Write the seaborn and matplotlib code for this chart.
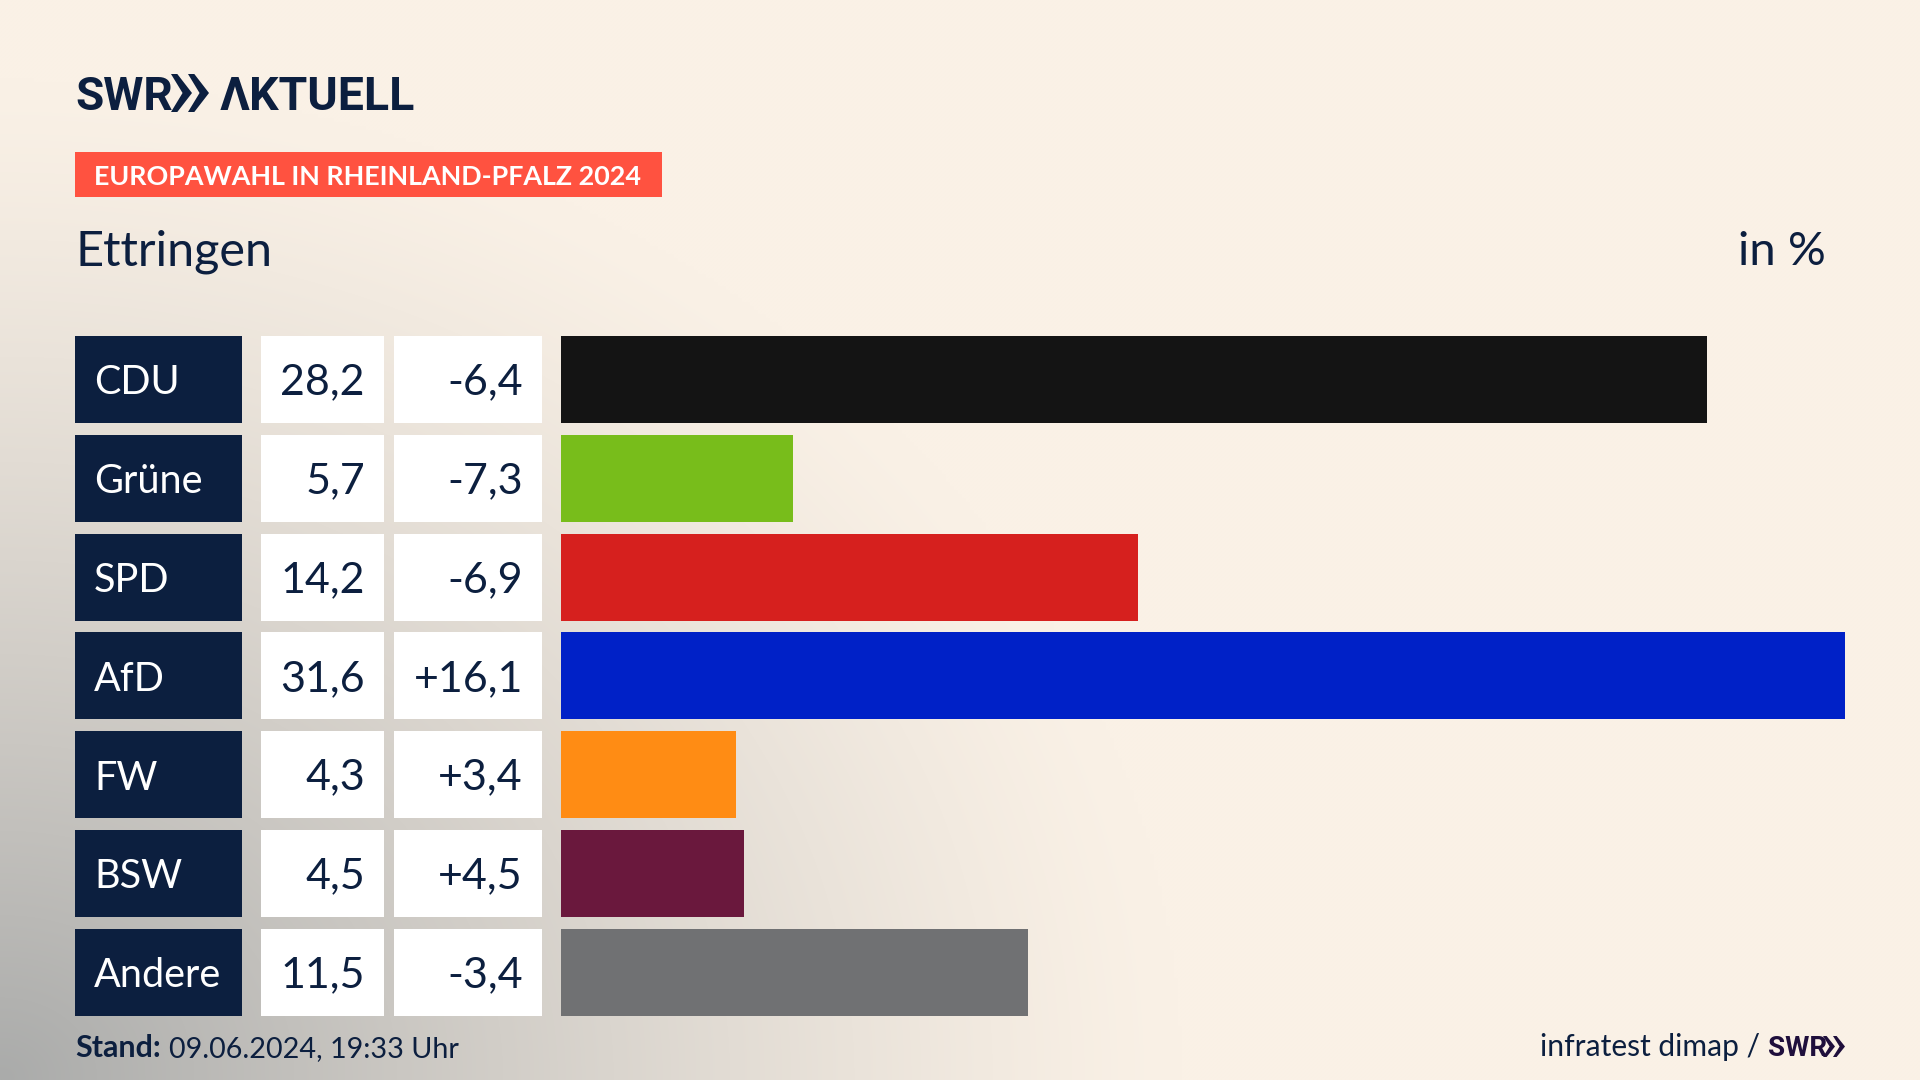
import numpy as np
import pandas as pd
import matplotlib
matplotlib.use("Agg")
import matplotlib.pyplot as plt
from matplotlib.patches import Rectangle, Polygon
import seaborn as sns

parties = ["CDU", "Grüne", "SPD", "AfD", "FW", "BSW", "Andere"]
shares = [28.2, 5.7, 14.2, 31.6, 4.3, 4.5, 11.5]
changes = [-6.4, -7.3, -6.9, 16.1, 3.4, 4.5, -3.4]
colors = ["#141414", "#78BD1B", "#D6201E", "#0021C7", "#FF8C14", "#6A183D", "#707173"]

W, H = 1920, 1080
NAVY = "#0C1F3F"
BEIGE = np.array([250, 241, 230]) / 255
GRAY = np.array([170, 171, 170]) / 255
FONT = "Lato"
LOGO = ["Roboto", "DejaVu Sans"]

sns.set_theme(style="white")
plt.rcParams["font.family"] = [FONT, "DejaVu Sans"]
fig = plt.figure(figsize=(W / 100, H / 100), dpi=100, facecolor="#FAF1E6")


def fx(x):
    return x / W


def fy(y):
    return 1 - y / H


def txt(x, y, s, size, color=NAVY, ha="left", **kw):
    return fig.text(fx(x), fy(y), s, fontsize=size, color=color, ha=ha, va="baseline", **kw)


def box(x0, y0, x1, y1, color):
    fig.add_artist(Rectangle((fx(x0), fy(y1)), (x1 - x0) / W, (y1 - y0) / H,
                             transform=fig.transFigure, facecolor=color, edgecolor="none", linewidth=0))


def chevrons(x, top, bottom, w, gap, color):
    mid = (top + bottom) / 2
    for k in range(2):
        x0 = x + k * gap
        pts = [(x0, top), (x0 + w * 0.3, top), (x0 + w, mid), (x0 + w * 0.3, bottom), (x0, bottom), (x0 + w * 0.55, mid)]
        fig.add_artist(Polygon([(fx(a), fy(b)) for a, b in pts], closed=True,
                               transform=fig.transFigure, facecolor=color, edgecolor="none", linewidth=0))


# Background glow from the lower left corner
bg = fig.add_axes([0, 0, 1, 1], zorder=-5)
yy, xx = np.mgrid[0:H:270j, 0:W:480j]
d = np.sqrt((xx / 1180) ** 2 + ((H - yy) / 1000) ** 2)
t = np.clip(1 - d, 0, 1) ** 1.25
t = t[..., None]
bg.imshow(BEIGE * (1 - t) + GRAY * t, extent=(0, W, H, 0), aspect="auto", interpolation="bilinear")
bg.axis("off")

# Rows
TOP, BOTTOM = 336.0, 1015.7
ROW_H = 87.0
PITCH = (BOTTOM - TOP - ROW_H) / 6
BAR_X0, BAR_X1 = 561.0, 1845.5

ax_top = TOP - (PITCH - ROW_H) / 2
ax_bot = BOTTOM + (PITCH - ROW_H) / 2
ax = fig.add_axes([fx(BAR_X0), fy(ax_bot), (BAR_X1 - BAR_X0) / W, (ax_bot - ax_top) / H], zorder=2)
ax.patch.set_alpha(0)
df = pd.DataFrame({"party": parties, "share": shares})
sns.barplot(data=df, y="party", x="share", hue="party", order=parties, hue_order=parties,
            palette=colors, saturation=1, legend=False, width=ROW_H / PITCH, linewidth=0, ax=ax)
ax.set_xlim(0, max(shares))
ax.set_ylim(len(parties) - 0.5, -0.5)
ax.axis("off")

for i, (p, v, c) in enumerate(zip(parties, shares, changes)):
    y0 = TOP + i * PITCH
    y1 = y0 + ROW_H
    box(75, y0, 242, y1, NAVY)
    box(261, y0, 384, y1, "white")
    box(394, y0, 542, y1, "white")
    base = y0 + ROW_H / 2 + 15
    txt(94, base, p, 28.5, color="white", zorder=5)
    txt(365, base, f"{v:.1f}".replace(".", ","), 31, ha="right", zorder=5)
    txt(523, base, f"{c:+.1f}".replace(".", ","), 31, ha="right", zorder=5)

# Header
txt(75, 110.5, "SWR", 33, family=LOGO, weight="bold")
chevrons(171, 74, 112, 21, 17, NAVY)
txt(220, 110.5, "ΛKTUELL", 33.4, family=LOGO, weight="bold")
box(75, 152, 662, 197, "#FF5240")
txt(94, 184.5, "EUROPAWAHL IN RHEINLAND-PFALZ 2024", 19.4, color="white", weight="bold")
txt(76, 265, "Ettringen", 35)
txt(1826, 265, "in %", 34, ha="right")

# Footer
txt(75, 1057, "Stand:", 22, weight="bold")
txt(169, 1057, "09.06.2024, 19:33 Uhr", 20.7)
txt(1760, 1056, "infratest dimap /", 21.6, ha="right")
txt(1768, 1056, "SWR", 20, color="#1F0F3C", family=LOGO, weight="bold")
chevrons(1823, 1036, 1057, 12, 10, "#1F0F3C")

fig.savefig("out.png", dpi=100, facecolor=fig.get_facecolor())
